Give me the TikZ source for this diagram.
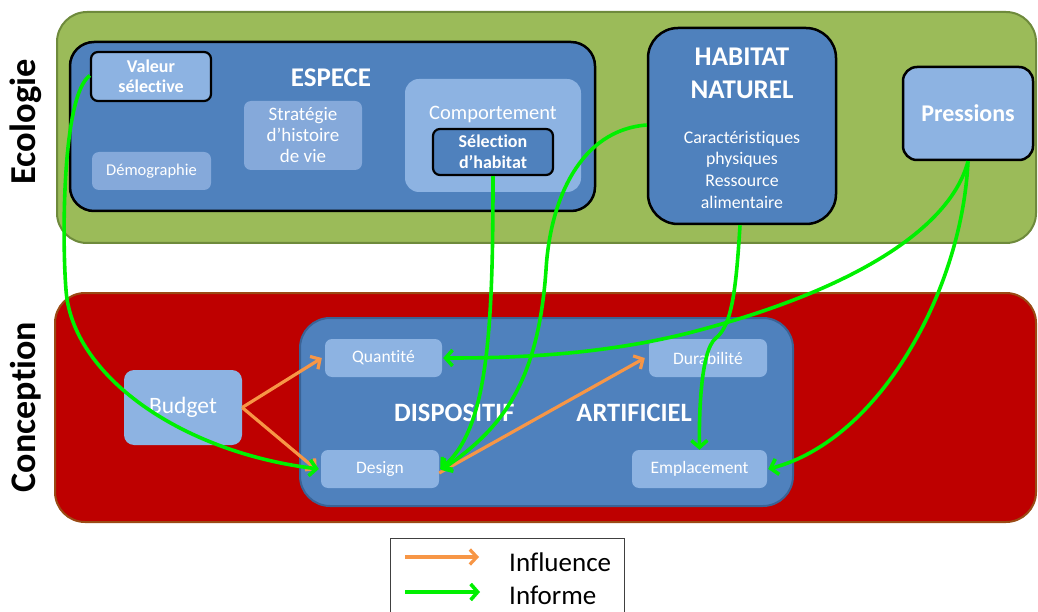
\documentclass[tikz,border=0pt]{standalone}
\usepackage{fontspec}
\setmainfont{Carlito}[Ligatures=NoCommon]
\usetikzlibrary{arrows.meta}
\definecolor{eco}{HTML}{9BBB59}
\definecolor{ecob}{HTML}{6E8A3C}
\definecolor{conc}{HTML}{BE0000}
\definecolor{concb}{HTML}{9A4A14}
\definecolor{dblue}{HTML}{4F81BD}
\definecolor{lblue}{HTML}{8DB3E2}
\definecolor{sblue}{HTML}{85A9DA}
\definecolor{dispb}{HTML}{3A6396}
\definecolor{infl}{HTML}{F79646}
\definecolor{infm}{HTML}{00F000}
\tikzset{
  zone/.style={rounded corners=30, line width=2},
  bigbox/.style={draw=black, line width=2.5, fill=dblue, rounded corners=24},
  lbox/.style={fill=lblue, rounded corners=7, text=white, inner sep=0pt, align=center},
  kbox/.style={draw=black, line width=2.2, rounded corners=7, text=white, inner sep=0pt, align=center},
  wtxt/.style={text=white, inner sep=0pt, align=center},
  influ/.style={draw=infl, line width=3.2, -{Straight Barb[length=7pt,width=15pt]}},
  informe/.style={draw=infm, line width=3.6, -{Straight Barb[length=7pt,width=16pt]}},
}
\begin{document}
\begin{tikzpicture}[x=1pt,y=-1pt]
\useasboundingbox (0,0) rectangle (1038,612);
% zones
\draw[zone, draw=ecob, fill=eco] (57,12) rectangle (1036,243);
\draw[zone, draw=concb, fill=conc] (55,293) rectangle (1036,522);
\node[rotate=90, font=\bfseries\fontsize{36.5}{40}\selectfont] (ecol) at (26,122) {Ecologie};
\node[rotate=90, font=\bfseries\fontsize{36}{40}\selectfont] (conc) at (26,407) {Conception};
% ESPECE
\draw[bigbox] (70,42) rectangle (595,211);
\node[wtxt, font=\bfseries\fontsize{27}{30}\selectfont] (espt) at (331,78) {ESPECE};
\node[kbox, fill=lblue, minimum width=120, minimum height=49, font=\bfseries\fontsize{18}{20.5}\selectfont] (val) at (151,76.5) {Valeur\\sélective};
\node[lbox, fill=sblue, minimum width=118, minimum height=69, font=\fontsize{19}{21}\selectfont] (strat) at (303,135.5) {Stratégie\\d’histoire\\de vie};
\node[lbox, fill=sblue, minimum width=119, minimum height=38, font=\fontsize{16.5}{19}\selectfont] (demo) at (151.5,171) {Démographie};
\node[lbox, rounded corners=14, minimum width=176, minimum height=113] (comp) at (493,135.5) {};
\node[wtxt, font=\fontsize{20.5}{24}\selectfont] (compt) at (493,114.5) {Comportement};
\node[kbox, fill=dblue, minimum width=120, minimum height=46, font=\bfseries\fontsize{18}{21}\selectfont] (sel) at (493,152) {Sélection\\d’habitat};
% HABITAT
\node[bigbox, rounded corners=30, minimum width=188, minimum height=196, inner sep=0pt] (hab) at (742,126) {};
\node[wtxt, font=\bfseries\fontsize{27}{33}\selectfont] (habt) at (742,73.5) {HABITAT\\NATUREL};
\node[wtxt, font=\fontsize{17.8}{21.7}\selectfont] (habd) at (742,169.5) {Caractéristiques\\physiques\\Ressource\\alimentaire};
% Pressions
\node[kbox, fill=lblue, line width=2.5, rounded corners=14, minimum width=130, minimum height=93, font=\bfseries\fontsize{24}{28}\selectfont] (pres) at (968,113.5) {Pressions};
% DISPOSITIF
\draw[line width=2, draw=dispb, fill=dblue, rounded corners=30] (300,318) rectangle (793,506);
\node[wtxt, font=\bfseries\fontsize{26.5}{30}\selectfont] (dispt) at (543,413) {DISPOSITIF\hspace{62pt}ARTIFICIEL};
\node[lbox, minimum width=117, minimum height=38, font=\fontsize{17.5}{20}\selectfont] (quant) at (383.5,358) {Quantité};
\node[lbox, minimum width=118, minimum height=38, font=\fontsize{17.5}{20}\selectfont] (design) at (380,469) {Design};
\node[lbox, minimum width=118, minimum height=38, font=\fontsize{17.5}{20}\selectfont] (dur) at (708,358) {Durabilité};
\node[lbox, minimum width=135, minimum height=38, font=\fontsize{17.5}{20}\selectfont] (emp) at (699.5,469) {Emplacement};
\node[lbox, rounded corners=10, minimum width=118, minimum height=75, font=\fontsize{23.5}{27}\selectfont] (budget) at (183,407.5) {Budget};
% orange arrows
\draw[influ] (budget.east) -- ([xshift=-3]quant.west);
\draw[influ] (budget.east) -- ([xshift=-4,yshift=-1]design.west);
\draw[influ] ([yshift=-4]design.east) -- ([xshift=-4]dur.west);
% green arrows
\draw[informe] ([yshift=1]val.west) .. controls (62,95) and (62,240) .. (66,290) .. controls (72,375) and (180,452) .. ([xshift=-2]design.west);
\draw[informe] (sel.south) .. controls (493,330) and (488,430) .. ([xshift=1]design.east);
\draw[informe] ([yshift=1]hab.west) .. controls (580,130) and (550,200) .. (546,270) .. controls (538,385) and (500,430) .. ([xshift=2,yshift=-1]design.east);
\draw[informe] ([xshift=-2]hab.south) .. controls (736,290) and (732,325) .. (716,338) .. controls (700,350) and (699,420) .. (emp.north);
\draw[informe] (pres.south) .. controls (950,230) and (850,290) .. (700,330) .. controls (600,357) and (500,358) .. ([xshift=1]quant.east);
\draw[informe] (pres.south) .. controls (962,290) and (880,440) .. ([xshift=1]emp.east);
% legend
\node[draw=black!75, line width=1.2, minimum width=234, minimum height=80, anchor=north west, inner sep=0pt] (leg) at (390,538) {};
\coordinate (l1a) at (405,557); \coordinate (l1b) at (479,557);
\coordinate (l2a) at (405,592); \coordinate (l2b) at (480,592);
\draw[influ] (l1a) -- (l1b);
\draw[informe] (l2a) -- (l2b);
\node[anchor=west, inner sep=0pt, font=\fontsize{27}{30}\selectfont] (legi) at (509,562) {Influence};
\node[anchor=west, inner sep=0pt, font=\fontsize{27}{30}\selectfont] (legf) at (509,595) {Informe};
\end{tikzpicture}
\end{document}
